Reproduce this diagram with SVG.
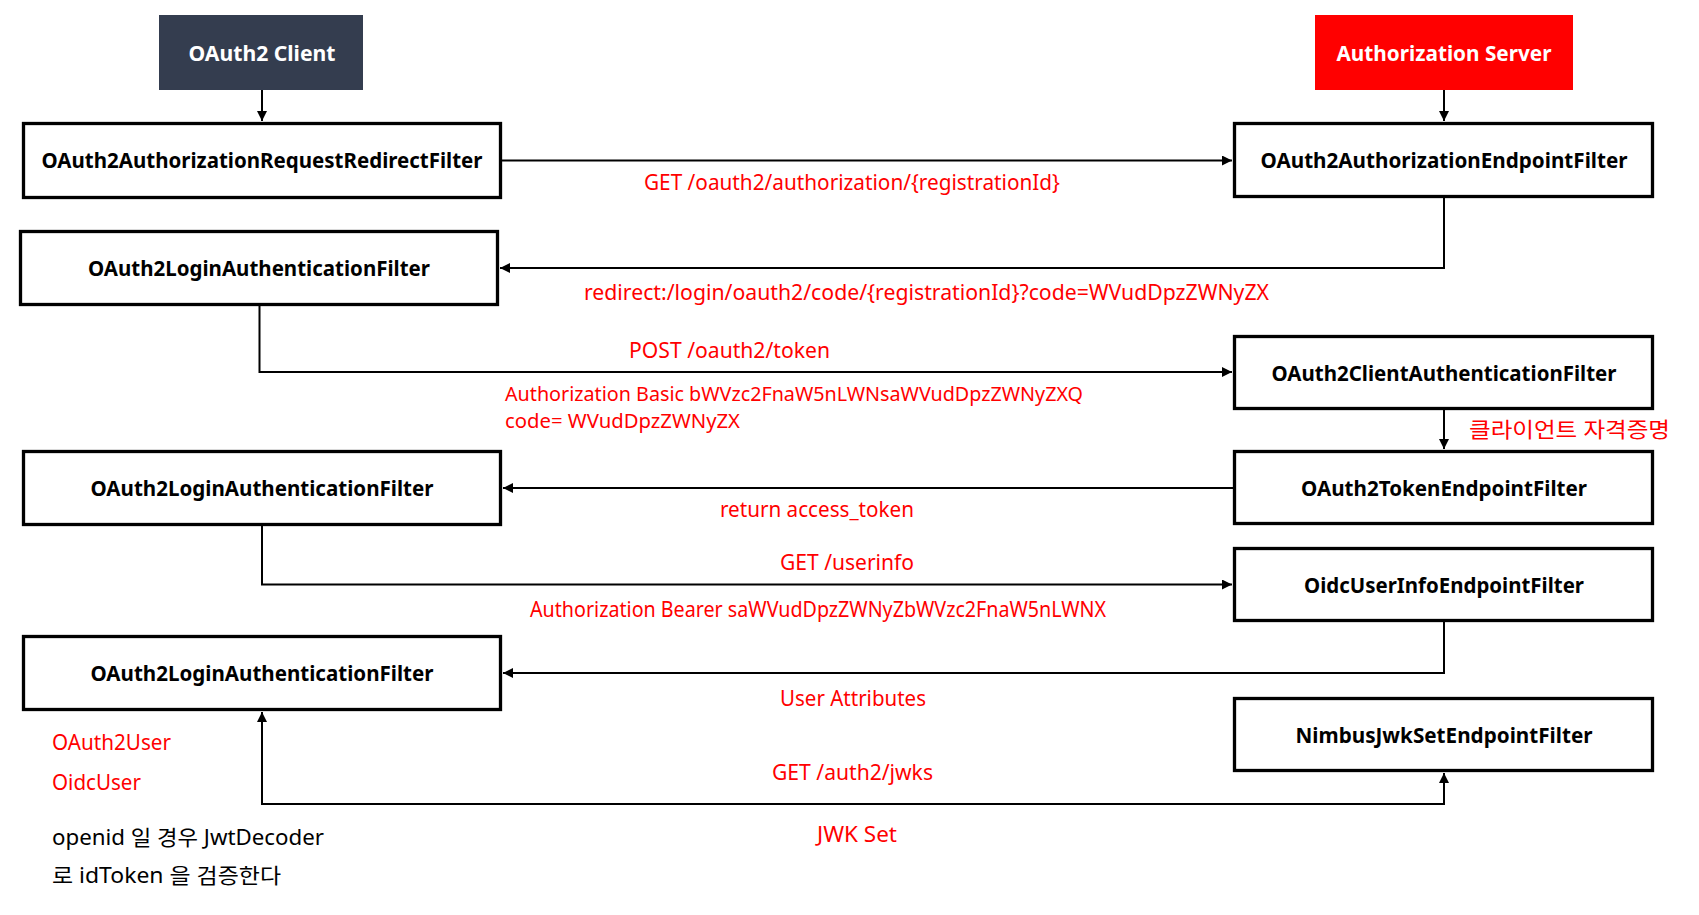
<svg xmlns="http://www.w3.org/2000/svg" width="1699" height="915" viewBox="0 0 1699 915">
<style>
.box{fill:#fff;stroke:#000;stroke-width:3.3}
.nt{font-family:"Noto Sans","Noto Sans CJK KR",sans-serif;font-weight:bold;font-size:22px;fill:#000;text-anchor:middle}
.ht{font-family:"Noto Sans","Noto Sans CJK KR",sans-serif;font-weight:bold;font-size:21px;fill:#fff;text-anchor:middle}
.lbl{font-family:"Noto Sans","Noto Sans CJK KR",sans-serif;font-size:21px;fill:#ff0000}
.sm{font-size:19.5px}
.note{font-family:"Noto Sans","Noto Sans CJK KR",sans-serif;font-size:21px;fill:#000}
.cn{fill:none;stroke:#000;stroke-width:2}
</style>
<defs>
<marker id="ah" markerUnits="userSpaceOnUse" markerWidth="11" markerHeight="10" refX="10" refY="5" orient="auto-start-reverse">
<path d="M0,0 L10,5 L0,10 z" fill="#000"/>
</marker>
</defs>
<rect width="1699" height="915" fill="#fff"/>

<g id="connectors">
<path class="cn" d="M262 90 V121" marker-end="url(#ah)"/>
<path class="cn" d="M1444 90 V121" marker-end="url(#ah)"/>
<path class="cn" d="M502 160.5 H1232" marker-end="url(#ah)"/>
<path class="cn" d="M1444 198 V268 H500" marker-end="url(#ah)"/>
<path class="cn" d="M259.5 306 V372 H1232" marker-end="url(#ah)"/>
<path class="cn" d="M1444 410 V449" marker-end="url(#ah)"/>
<path class="cn" d="M1233 488 H503" marker-end="url(#ah)"/>
<path class="cn" d="M262 526 V584.5 H1232" marker-end="url(#ah)"/>
<path class="cn" d="M1444 622 V673 H503" marker-end="url(#ah)"/>
<path class="cn" d="M262 712 V804 H1444 V773" marker-start="url(#ah)" marker-end="url(#ah)"/>
</g>

<g id="labels">
<text class="lbl" x="644" y="190" textLength="416" lengthAdjust="spacingAndGlyphs">GET /oauth2/authorization/{registrationId}</text>
<text class="lbl" x="584" y="300" textLength="685" lengthAdjust="spacingAndGlyphs">redirect:/login/oauth2/code/{registrationId}?code=WVudDpzZWNyZX</text>
<text class="lbl" x="629" y="358" textLength="201" lengthAdjust="spacingAndGlyphs">POST /oauth2/token</text>
<text class="lbl sm" x="505" y="401" textLength="578" lengthAdjust="spacingAndGlyphs">Authorization Basic bWVzc2FnaW5nLWNsaWVudDpzZWNyZXQ</text>
<text class="lbl sm" x="505" y="428" textLength="235" lengthAdjust="spacingAndGlyphs">code= WVudDpzZWNyZX</text>
<text class="lbl" x="1469" y="437" textLength="201" lengthAdjust="spacingAndGlyphs">클라이언트 자격증명</text>
<text class="lbl" x="720" y="517" textLength="194" lengthAdjust="spacingAndGlyphs">return access_token</text>
<text class="lbl" x="780" y="570" textLength="134" lengthAdjust="spacingAndGlyphs">GET /userinfo</text>
<text class="lbl" x="530" y="617" textLength="576" lengthAdjust="spacingAndGlyphs">Authorization Bearer saWVudDpzZWNyZbWVzc2FnaW5nLWNX</text>
<text class="lbl" x="780" y="706" textLength="146" lengthAdjust="spacingAndGlyphs">User Attributes</text>
<text class="lbl" x="772" y="780" textLength="161" lengthAdjust="spacingAndGlyphs">GET /auth2/jwks</text>
<text class="lbl" x="817" y="842" textLength="80" lengthAdjust="spacingAndGlyphs">JWK Set</text>
<text class="lbl" x="52" y="750" textLength="119" lengthAdjust="spacingAndGlyphs">OAuth2User</text>
<text class="lbl" x="52" y="790" textLength="89" lengthAdjust="spacingAndGlyphs">OidcUser</text>
<text class="note" x="52" y="845" textLength="272" lengthAdjust="spacingAndGlyphs">openid 일 경우 JwtDecoder</text>
<text class="note" x="52" y="883" textLength="229" lengthAdjust="spacingAndGlyphs">로 idToken 을 검증한다</text>
</g>

<g id="oauth2-client">
<rect x="159" y="15" width="204" height="75" fill="#343d4f"/>
<text class="ht" x="262" y="61" textLength="147" lengthAdjust="spacingAndGlyphs">OAuth2 Client</text>
</g>
<g id="authorization-server">
<rect x="1315" y="15" width="258" height="75" fill="#ff0000"/>
<text class="ht" x="1444" y="61" textLength="215" lengthAdjust="spacingAndGlyphs">Authorization Server</text>
</g>
<g id="request-redirect-filter">
<rect class="box" x="23.5" y="123.5" width="477" height="74"/>
<text class="nt" x="262" y="168" textLength="441" lengthAdjust="spacingAndGlyphs">OAuth2AuthorizationRequestRedirectFilter</text>
</g>
<g id="authorization-endpoint-filter">
<rect class="box" x="1234.5" y="123.5" width="418" height="73"/>
<text class="nt" x="1444" y="168" textLength="367" lengthAdjust="spacingAndGlyphs">OAuth2AuthorizationEndpointFilter</text>
</g>
<g id="login-filter-1">
<rect class="box" x="20.5" y="231.5" width="477" height="73"/>
<text class="nt" x="259" y="276" textLength="342" lengthAdjust="spacingAndGlyphs">OAuth2LoginAuthenticationFilter</text>
</g>
<g id="client-authentication-filter">
<rect class="box" x="1234.5" y="336.5" width="418" height="72"/>
<text class="nt" x="1444" y="381" textLength="345" lengthAdjust="spacingAndGlyphs">OAuth2ClientAuthenticationFilter</text>
</g>
<g id="token-endpoint-filter">
<rect class="box" x="1234.5" y="451.5" width="418" height="72"/>
<text class="nt" x="1444" y="496" textLength="286" lengthAdjust="spacingAndGlyphs">OAuth2TokenEndpointFilter</text>
</g>
<g id="login-filter-2">
<rect class="box" x="23.5" y="451.5" width="477" height="73"/>
<text class="nt" x="262" y="496" textLength="343" lengthAdjust="spacingAndGlyphs">OAuth2LoginAuthenticationFilter</text>
</g>
<g id="userinfo-endpoint-filter">
<rect class="box" x="1234.5" y="548.5" width="418" height="72"/>
<text class="nt" x="1444" y="593" textLength="280" lengthAdjust="spacingAndGlyphs">OidcUserInfoEndpointFilter</text>
</g>
<g id="login-filter-3">
<rect class="box" x="23.5" y="636.5" width="477" height="73"/>
<text class="nt" x="262" y="681" textLength="343" lengthAdjust="spacingAndGlyphs">OAuth2LoginAuthenticationFilter</text>
</g>
<g id="jwkset-endpoint-filter">
<rect class="box" x="1234.5" y="698.5" width="418" height="72"/>
<text class="nt" x="1444" y="743" textLength="297" lengthAdjust="spacingAndGlyphs">NimbusJwkSetEndpointFilter</text>
</g>
</svg>
